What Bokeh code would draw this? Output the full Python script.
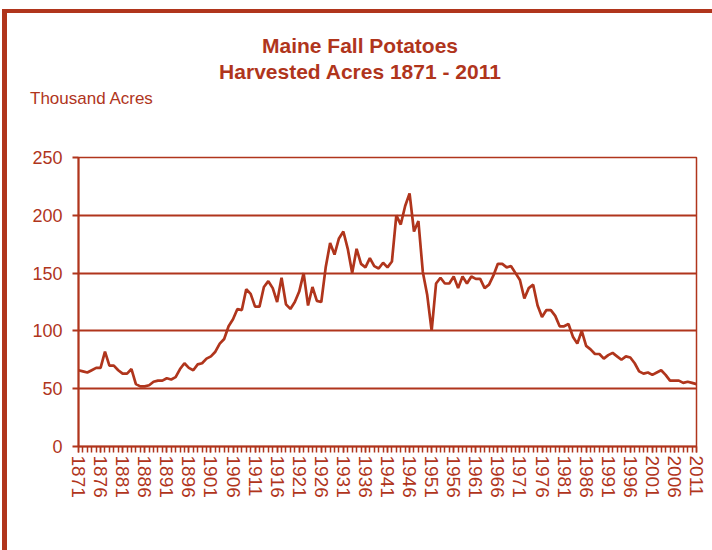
from bokeh.plotting import figure
from bokeh.layouts import column
from bokeh.models import Range1d, FixedTicker, Div
from bokeh.embed import file_html
from bokeh.resources import INLINE

RED = "#B0351C"
FONT = "Liberation Sans"

years = list(range(1871, 2012))
acres = [
    66, 65, 64, 66, 68, 68, 82, 70, 70, 66,          # 1871-1880
    63, 63, 67, 54, 52, 52, 53, 56, 57, 57,          # 1881-1890
    59, 58, 60, 67, 72, 68, 66, 71, 72, 76,          # 1891-1900
    78, 82, 89, 93, 104, 110, 119, 118, 136, 132,    # 1901-1910
    121, 121, 138, 143, 137, 125, 146, 123, 119, 125,  # 1911-1920
    134, 150, 122, 138, 126, 125, 155, 176, 166, 180,  # 1921-1930
    186, 171, 150, 171, 158, 155, 163, 156, 154, 159,  # 1931-1940
    155, 160, 200, 192, 208, 219, 186, 195, 151, 131,  # 1941-1950
    100, 141, 146, 141, 141, 147, 137, 147, 141, 147,  # 1951-1960
    145, 145, 137, 140, 148, 158, 158, 155, 156, 150,  # 1961-1970
    144, 128, 137, 140, 122, 112, 118, 118, 113, 104,  # 1971-1980
    104, 106, 95, 89, 100, 87, 84, 80, 80, 76,         # 1981-1990
    79, 81, 78, 75, 78, 77, 72, 65, 63, 64,            # 1991-2000
    62, 64, 66, 62, 57, 57, 57, 55, 56, 55,            # 2001-2010
    54,                                                # 2011
]
y_ticks = [0, 50, 100, 150, 200, 250]
x_label_years = list(range(1871, 2012, 5))

title_line1 = "Maine Fall Potatoes"
title_line2 = "Harvested Acres 1871 - 2011"
unit_label = "Thousand Acres"

# ---- header (titles) ----
head_html = (
    f'<div style="position:relative;width:705px;height:130px;'
    f'font-family:\'{FONT}\';color:{RED};">'
    f'<div style="position:absolute;left:0;width:706px;top:20px;height:26px;'
    f'line-height:26px;text-align:center;font-weight:bold;font-size:21px;'
    f'white-space:nowrap;">{title_line1}</div>'
    f'<div style="position:absolute;left:0;width:706px;top:46px;height:26px;'
    f'line-height:26px;text-align:center;font-weight:bold;font-size:21px;'
    f'white-space:nowrap;">{title_line2}</div>'
    f'<div style="position:absolute;left:23px;top:76px;height:20px;'
    f'line-height:20px;font-size:17px;white-space:nowrap;">{unit_label}</div>'
    f'</div>'
)
head = Div(text=head_html, width=705, height=130, margin=(0, 0, 0, 0))

# ---- main chart ----
p = figure(width=705, height=407, output_backend="svg", toolbar_location=None,
           x_range=Range1d(1871, 2011), y_range=Range1d(0, 250),
           min_border_left=71, min_border_right=16, min_border_top=14,
           min_border_bottom=104, title=None)

p.line(years, acres, line_color=RED, line_width=2.7)

p.outline_line_color = RED
p.outline_line_width = 1.5
p.background_fill_color = "white"
p.border_fill_color = "white"

p.xgrid.visible = False
p.ygrid.ticker = FixedTicker(ticks=y_ticks)
p.ygrid.grid_line_color = RED
p.ygrid.grid_line_width = 2

ya = p.yaxis[0]
ya.ticker = FixedTicker(ticks=y_ticks)
ya.axis_line_color = RED
ya.axis_line_width = 2
ya.major_tick_line_color = RED
ya.major_tick_line_width = 2
ya.major_tick_in = 0
ya.major_tick_out = 6
ya.minor_tick_line_color = None
ya.major_label_text_color = RED
ya.major_label_text_font = FONT
ya.major_label_text_font_size = "18px"
ya.major_label_standoff = 10

xa = p.xaxis[0]
xa.ticker = FixedTicker(ticks=x_label_years, minor_ticks=years)
xa.axis_line_color = RED
xa.axis_line_width = 2
xa.major_tick_line_color = RED
xa.major_tick_line_width = 1.5
xa.major_tick_in = 0
xa.major_tick_out = 6
xa.minor_tick_line_color = RED
xa.minor_tick_line_width = 1.5
xa.minor_tick_in = 0
xa.minor_tick_out = 6
xa.major_label_orientation = "vertical"
xa.major_label_text_color = RED
xa.major_label_text_font = FONT
xa.major_label_text_font_size = "19px"
xa.major_label_standoff = 3

layout = column(head, p, spacing=0,
                styles={"position": "relative", "left": "2px", "top": "9px",
                        "border-left": "5px solid " + RED,
                        "border-top": "4px solid " + RED})

open("out.html", "w").write(file_html(layout, INLINE))
